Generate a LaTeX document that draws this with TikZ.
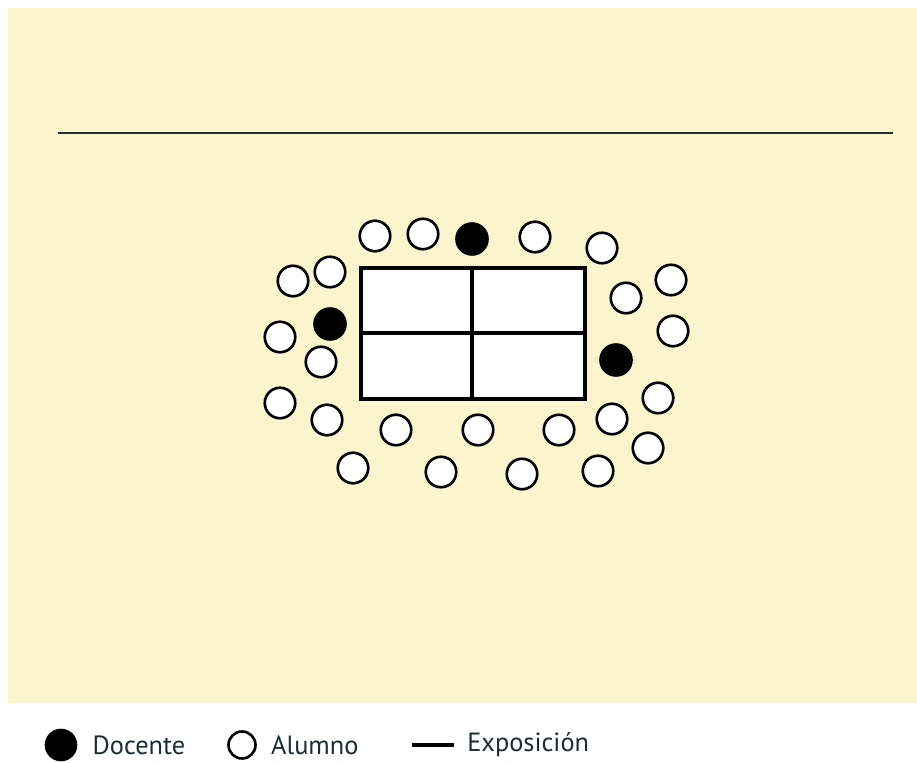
\documentclass[tikz,border=0pt]{standalone}
\usepackage{fontspec}
\setmainfont{PT Sans}
\usepackage{tikz}
\usetikzlibrary{positioning}

\definecolor{fondo}{RGB}{250,245,204}
\definecolor{linea}{RGB}{40,50,45}
\definecolor{texto}{RGB}{30,45,50}

\tikzset{
  alumno/.style={circle, draw=black, fill=white, line width=1.5pt,
    minimum size=0.61cm, inner sep=0pt},
  docente/.style={circle, draw=black, fill=black, line width=1.5pt,
    minimum size=0.62cm, inner sep=0pt},
  leyenda/.style={font=\fontsize{15}{17}\selectfont, text=texto, anchor=west, inner sep=0pt}
}

\begin{document}
\begin{tikzpicture}[x=0.02cm, y=-0.02cm]
  \useasboundingbox (0,0) rectangle (917,763);
  % fondo del aula
  \fill[fondo] (8,8) rectangle (917,703);
  % pizarra / exposicion
  \coordinate (p1) at (58,133);
  \coordinate (p2) at (893,133);
  \draw[linea, line width=1pt] (p1) -- (p2);
  % mesas
  \draw[fill=white, line width=2pt] (361,268) rectangle (585,399);
  \draw[line width=2pt] (472,268) -- (472,399);
  \draw[line width=2pt] (361,333) -- (585,333);
  % alumnos
  \foreach \x/\y [count=\i] in {375/236, 423/234, 535/237, 602/248,
      293/281, 330/272, 280/337, 321/362, 280/403, 327/420,
      396/430, 478/430, 559/430, 612/419, 658/398, 648/448,
      598/471, 522/474, 441/472, 353/468, 626/298, 671/280, 673/331}
    \node[alumno] (a\i) at (\x,\y) {};
  % docentes
  \node[docente] (d1) at (472,239) {};
  \node[docente] (d2) at (330,324) {};
  \node[docente] (d3) at (616,360) {};
  % leyenda
  \node[docente, minimum size=0.6cm] (ld) at (61,745) {};
  \node[leyenda, right=0.3cm of ld] (tdoc) {Docente};
  \node[alumno, minimum size=0.54cm] (la) at (242,745) {};
  \node[leyenda, right=0.28cm of la] (talu) {Alumno};
  \coordinate (e1) at (412,745);
  \coordinate (e2) at (454,745);
  \draw[line width=2.8pt] (e1) -- (e2);
  \node[leyenda, right=0.26cm of e2] (texp) {Exposición};
\end{tikzpicture}
\end{document}
